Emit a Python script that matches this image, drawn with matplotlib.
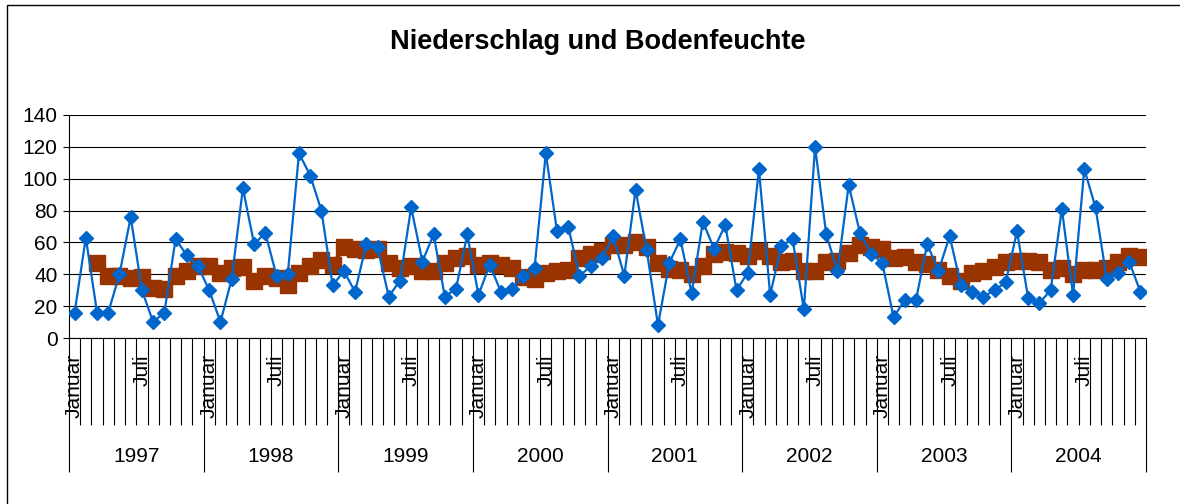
import matplotlib.pyplot as plt
from matplotlib.patches import Rectangle
import numpy as np

# Niederschlag und Bodenfeuchte, monthly 1997-2004
jahre = ['1997', '1998', '1999', '2000', '2001', '2002', '2003', '2004']
monate = ['Januar', '', '', '', '', '', 'Juli', '', '', '', '', '']

niederschlag = [
    16, 63, 16, 16, 40, 76, 30, 10, 16, 62, 52, 45,    # 1997
    30, 10, 37, 94, 59, 66, 39, 40, 116, 102, 80, 33,  # 1998
    42, 29, 59, 57, 26, 36, 82, 48, 65, 26, 31, 65,    # 1999
    27, 46, 29, 31, 39, 44, 116, 67, 70, 39, 45, 50,   # 2000
    64, 39, 93, 55, 8, 47, 62, 28, 73, 56, 71, 30,     # 2001
    41, 106, 27, 58, 62, 18, 120, 65, 42, 96, 66, 53,  # 2002
    47, 13, 24, 24, 59, 42, 64, 33, 29, 26, 30, 35,    # 2003
    67, 25, 22, 30, 81, 27, 106, 82, 37, 41, 48, 29,   # 2004
]

nan = np.nan
bodenfeuchte = [
    nan, nan, 47, 39, 39, 37.5, 38, 31.5, 30.5, 39, 42, 45,
    45, 41, 44, 44.5, 36, 39, 37.5, 33, 40.5, 45, 49, 46,
    57, 56, 55, 56, 47, 44, 45, 42, 42, 47, 50.5, 51.5,
    46, 47, 46, 44, 38, 37, 41, 42, 43, 50.5, 52.5, 54.5,
    58.5, 58.5, 60, 57, 47, 43.5, 43, 40, 45, 52.5, 54, 53.5,
    51.5, 54.5, 51.5, 47.5, 48.5, 42, 42, 47.5, 48.5, 53.5, 58.5, 57,
    56, 50.5, 51, 48, 46.5, 43, 39, 36, 41, 42, 44.5, 47.5,
    48.5, 48.5, 47.5, 43, 44, 40, 42.5, 42.5, 44, 47.5, 51.5, 51,
]

plt.rcParams['font.family'] = ['Liberation Sans', 'DejaVu Sans']

W, H = 1180, 504
PT = 0.72  # points per pixel at dpi 100
fig = plt.figure(figsize=(W / 100, H / 100), dpi=100)
ax = fig.add_axes([69 / W, 1 - 338 / H, (1146 - 69) / W, (338 - 115) / H])

x = np.arange(len(niederschlag)) + 0.5
ax.plot(x, bodenfeuchte, color='#993300', lw=3, marker='s', ms=11, zorder=3)
ax.plot(x, niederschlag, color='#0066CC', lw=1.6, marker='D', ms=7.2, zorder=4)

ax.set_xlim(0, len(niederschlag))
ax.set_ylim(0, 140)
ax.set_yticks(range(0, 141, 20))
ax.yaxis.grid(True, color='black', lw=0.8)
ax.set_axisbelow(True)
for s in ['top', 'right']:
    ax.spines[s].set_visible(False)
for s in ['left', 'bottom']:
    ax.spines[s].set_linewidth(0.8)
ax.tick_params(axis='y', labelsize=15, length=6 * PT, width=0.8, pad=4)

# category axis: month ticks and year separators
ax.set_xticks(np.arange(0, len(niederschlag) + 1, 12))
ax.set_xticks(np.arange(0, len(niederschlag) + 1), minor=True)
ax.tick_params(axis='x', which='major', length=134 * PT, width=0.8, labelbottom=False)
ax.tick_params(axis='x', which='minor', length=87 * PT, width=0.8, labelbottom=False)

for j, jahr in enumerate(jahre):
    ax.annotate(jahr, xy=(j * 12 + 6, 0), xycoords=('data', 'axes fraction'),
                xytext=(0, -119), textcoords='offset pixels',
                ha='center', va='center', fontsize=15)
    for m, name in enumerate(monate):
        if name:
            ax.annotate(name, xy=(j * 12 + m + 0.5, 0), xycoords=('data', 'axes fraction'),
                        xytext=(0, -16), textcoords='offset pixels',
                        ha='center', va='top', rotation=90, fontsize=15)

fig.text(598 / W, 1 - 42 / H, 'Niederschlag und Bodenfeuchte',
         ha='center', va='center', fontsize=19.5, fontweight='bold')

fig.patches.append(Rectangle((7 / W, -0.1), 1.2, 1 - 5 / H + 0.1,
                             transform=fig.transFigure, fill=False,
                             ec='black', lw=1))

fig.savefig('out.png', dpi=100)
